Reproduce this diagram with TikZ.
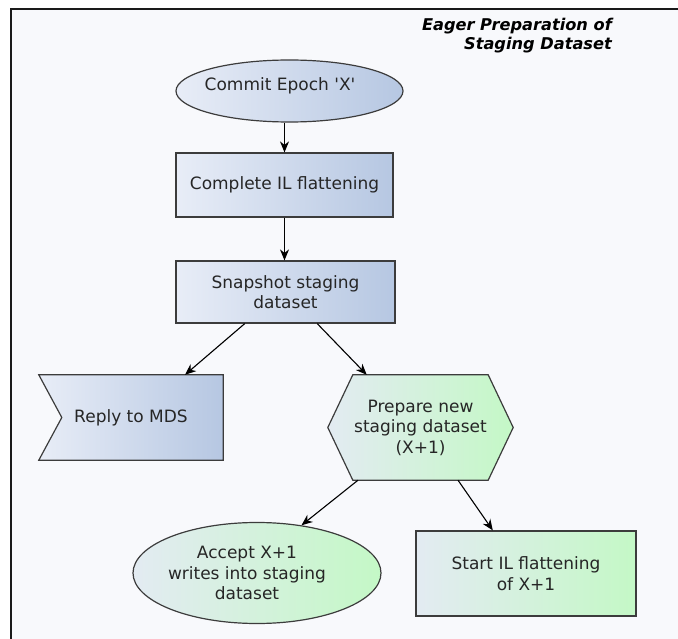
\documentclass[tikz,border=0pt]{standalone}
\usepackage{fontspec}
\newfontfamily\diafont{DejaVu Sans}
\newfontfamily\titlefont{DejaVu Sans Bold Oblique}
\usetikzlibrary{calc,shapes.geometric,arrows.meta}
\pgfdeclarelayer{back}
\pgfsetlayers{back,main}

\definecolor{frameline}{HTML}{1A1A1A}
\definecolor{canvas}{HTML}{F8F9FC}
\definecolor{edge}{HTML}{3C3C3C}
\definecolor{ink}{HTML}{262626}
\definecolor{blueL}{HTML}{E8EDF7}
\definecolor{blueR}{HTML}{B6C7E2}
\definecolor{greenL}{HTML}{E3EBF2}
\definecolor{greenR}{HTML}{C4F8C6}

\begin{document}
\begin{tikzpicture}[x=1pt,y=-1pt,
  txt/.style={text=ink, font=\diafont\fontsize{17}{20.5}\selectfont, align=center, inner sep=0pt},
  box/.style={draw=edge, line width=1.2pt, inner sep=0pt},
  outline/.style={draw=edge, line width=1.2pt},
  bluefill/.style={left color=blueL, right color=blueR},
  greenfill/.style={left color=greenL, right color=greenR},
  arr/.style={draw=black, line width=1.1pt, -{Stealth[length=11pt,width=9pt,inset=3.5pt]}},
]
\useasboundingbox (0,0) rectangle (678,639);
\begin{pgfonlayer}{back}
  \fill[white] (0,0) rectangle (678,639);
  \fill[canvas] (11,9) rectangle (678,639);
\end{pgfonlayer}
\draw[frameline, line width=1.6pt] (11,639) -- (11,9) -- (678,9);

% title
\node[anchor=north east, align=right, inner sep=0pt, text=black,
      font=\titlefont\fontsize{16.2}{18.5}\selectfont] (title)
      at (612,18) {Eager Preparation of\\Staging Dataset};

% start of the epoch
\node[box, bluefill, ellipse, minimum width=227, minimum height=62] (commit) at (289.5,91) {};
\node[txt] (committ) at (280,86) {Commit Epoch 'X'};

% process boxes
\node[box, bluefill, txt, minimum width=217, minimum height=64] (flatten) at (284.5,185) {Complete IL flattening};
\node[box, bluefill, txt, minimum width=219, minimum height=62] (snap) at (285.5,292) {Snapshot staging\\dataset};

% reply flag
\node[txt, minimum width=184, minimum height=85] (reply) at (131,417.5) {Reply to MDS};
% preparation hexagon
\node[txt, minimum width=185, minimum height=105] (prep) at (420.5,427.5) {Prepare new\\staging dataset\\(X+1)};
\begin{pgfonlayer}{back}
  \shade[outline, bluefill] (reply.north west) -- (reply.north east) -- (reply.south east)
     -- (reply.south west) -- ($(reply.west)+(23,0)$) -- cycle;
  \shade[outline, greenfill] (prep.west) -- ($(prep.north west)+(25,0)$) -- ($(prep.north east)+(-25,0)$)
     -- (prep.east) -- ($(prep.south east)+(-25,0)$) -- ($(prep.south west)+(25,0)$) -- cycle;
\end{pgfonlayer}

% next epoch
\node[box, greenfill, ellipse, minimum width=248, minimum height=101] (accept) at (257,573) {};
\node[txt] (acceptt) at (247,573) {Accept X+1\\writes into staging\\dataset};
\node[box, greenfill, txt, minimum width=220, minimum height=85] (startfl) at (526,573.5) {Start IL flattening\\of X+1};

% connectors
\draw[arr] (flatten.north |- commit.south) -- (flatten.north);
\draw[arr] (flatten.south) -- (flatten.south |- snap.north);
\draw[arr] ($(snap.south west)!0.315!(snap.south east)$) -- ($(reply.north west)!0.793!(reply.north east)$);
\draw[arr] ($(snap.south west)!0.644!(snap.south east)$) -- ($(prep.north west)!0.21!(prep.north east)$);
\draw[arr] ($(prep.south)+(-62.5,0)$) -- (accept.47);
\draw[arr] ($(prep.south)+(37.5,0)$) -- ($(startfl.north west)!0.35!(startfl.north east)$);
\end{tikzpicture}
\end{document}
